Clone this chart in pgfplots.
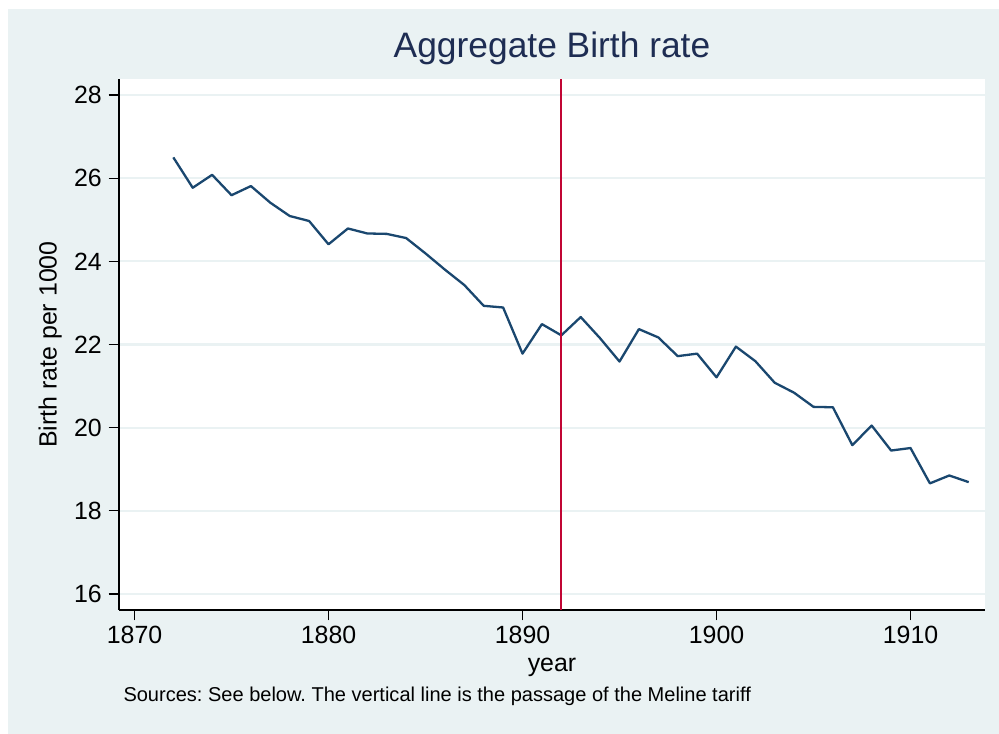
\documentclass[border=0pt]{standalone}
\usepackage{fontspec}
\setmainfont{Liberation Sans}
\usepackage{pgfplots}
\usepackage{pgfplotstable}
\pgfplotsset{compat=1.18}
\definecolor{bgc}{HTML}{EAF2F3}
\definecolor{navyline}{HTML}{1A476F}
\definecolor{cranb}{HTML}{C10534}
\definecolor{titlec}{HTML}{1E2D53}
\pgfplotstableread{
year rate
1872 26.50
1873 25.77
1874 26.08
1875 25.59
1876 25.81
1877 25.41
1878 25.09
1879 24.97
1880 24.41
1881 24.79
1882 24.67
1883 24.66
1884 24.56
1885 24.19
1886 23.80
1887 23.43
1888 22.93
1889 22.89
1890 21.78
1891 22.49
1892 22.22
1893 22.66
1894 22.15
1895 21.59
1896 22.37
1897 22.17
1898 21.72
1899 21.78
1900 21.21
1901 21.95
1902 21.60
1903 21.08
1904 20.84
1905 20.50
1906 20.49
1907 19.58
1908 20.05
1909 19.45
1910 19.51
1911 18.66
1912 18.85
1913 18.69
}\birthdata
\begin{document}
\frenchspacing
\begin{tikzpicture}
\useasboundingbox (0,0) rectangle (999bp,734bp);
\fill[white] (0,0) rectangle (999bp,734bp);
\fill[bgc] (8bp,-1bp) rectangle (1000bp,725bp);
\begin{axis}[
  at={(119bp,124bp)}, anchor=south west,
  scale only axis, width=866bp, height=531bp,
  xmin=1869.2, xmax=1913.84,
  ymin=15.615, ymax=28.385,
  axis background/.style={fill=white},
  axis x line*=bottom, axis y line*=left,
  axis line style={black, line width=1.3bp, -},
  xtick={1870,1880,1890,1900,1910},
  ytick={16,18,20,22,24,26,28},
  tick align=outside,
  major tick length=10.5bp,
  tick style={black, line width=1.3bp},
  ymajorgrids, grid style={bgc, line width=2.2bp},
  /pgf/number format/assume math mode=true,
  /pgf/number format/1000 sep={},
  ticklabel style={font=\fontsize{25}{30}\selectfont},
  xticklabel style={inner sep=0bp, yshift=-5bp},
  yticklabel style={inner sep=0bp, xshift=-6.6bp},
  title={Aggregate Birth rate},
  title style={font=\fontsize{35.5}{40}\selectfont, color=titlec, at={(rel axis cs:0.5,1.02957)}, anchor=base},
  xlabel={year},
  xlabel style={font=\fontsize{25}{30}\selectfont, at={(rel axis cs:0.5,-0.1162)}, anchor=base},
  ylabel={Birth rate per 1000},
  ylabel style={font=\fontsize{25}{30}\selectfont, at={(rel axis cs:-0.07194,0.5)}, anchor=base},
  clip=false,
]
\addplot[navyline, line width=2.3bp, line join=round] table[x=year, y=rate] {\birthdata};
\addplot[cranb, line width=2bp] coordinates {(1892,15.615) (1892,28.385)};
\node[anchor=base west, font=\fontsize{20.1}{24}\selectfont, inner sep=0pt] at (rel axis cs:0.00497,-0.1727) {Sources: See below. The vertical line is the passage of the Meline tariff};
\end{axis}
\end{tikzpicture}
\end{document}
